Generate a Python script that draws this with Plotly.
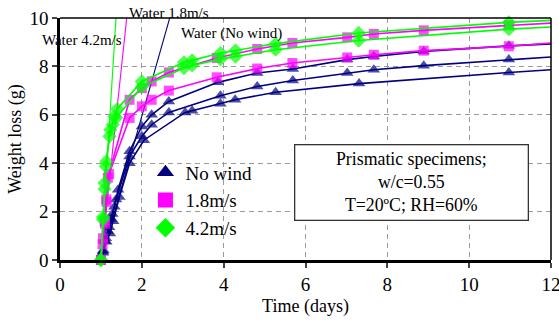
import plotly.graph_objects as go

# ---------------- data ----------------
# No wind (3 replicates)
nw1_x = [1.0, 1.05, 1.1, 1.17, 1.25, 1.33, 1.42, 1.7, 2.0, 2.24, 2.66, 3.86, 4.82, 5.69, 7.02, 7.67, 8.89, 10.97]
nw1_y = [0.0, 0.35, 0.8, 1.2, 1.7, 2.2, 2.9, 4.49, 5.52, 6.0, 6.55, 7.34, 7.73, 7.89, 8.28, 8.41, 8.62, 8.85]
nw1_end = 8.93
nw2_x = [1.0, 1.06, 1.12, 1.2, 1.28, 1.37, 1.7, 2.0, 2.24, 2.66, 3.92, 4.82, 5.69, 7.02, 7.67, 8.89, 10.97]
nw2_y = [0.0, 0.4, 0.9, 1.35, 1.9, 2.5, 4.28, 5.11, 5.59, 6.10, 6.79, 7.17, 7.42, 7.73, 7.86, 8.03, 8.28]
nw2_end = 8.39
nw3_x = [1.0, 1.05, 1.13, 1.22, 1.3, 1.45, 1.7, 2.05, 3.06, 3.23, 3.92, 4.28, 5.27, 7.31, 10.97]
nw3_y = [0.0, 0.3, 0.75, 1.1, 1.6, 2.6, 4.0, 4.95, 6.10, 6.17, 6.46, 6.62, 6.93, 7.29, 7.75]
nw3_end = 7.86

# 1.8 m/s (2 replicates)
m1_x = [1.0, 1.05, 1.09, 1.13, 1.17, 1.7, 2.0, 2.24, 2.66, 3.83, 4.82, 5.68, 7.02, 7.67, 8.89, 10.97]
m1_y = [0.0, 0.9, 1.6, 2.5, 3.4, 6.62, 7.1, 7.38, 7.75, 8.35, 8.72, 8.97, 9.20, 9.34, 9.49, 9.70]
m1_end = 9.79
m2_x = [1.0, 1.04, 1.1, 1.14, 1.2, 1.7, 2.0, 2.24, 2.66, 3.83, 4.82, 5.68, 7.02, 7.67, 8.89, 10.97]
m2_y = [0.0, 0.65, 1.5, 2.4, 3.55, 5.87, 6.35, 6.62, 7.0, 7.55, 7.91, 8.14, 8.37, 8.48, 8.65, 8.83]
m2_end = 8.97

# 4.2 m/s (2 replicates)
g1_x = [1.0, 1.05, 1.09, 1.13, 1.23, 1.33, 1.40, 2.0, 3.03, 3.23, 3.92, 4.29, 5.27, 7.30, 10.97]
g1_y = [0.0, 1.78, 3.18, 4.07, 5.38, 5.93, 6.24, 7.38, 8.17, 8.25, 8.55, 8.66, 8.94, 9.38, 9.82]
g1_end = 9.90
g2_x = [1.0, 1.05, 1.09, 1.12, 1.21, 1.29, 1.37, 2.0, 3.03, 3.23, 3.92, 4.29, 5.27, 7.30, 10.97]
g2_y = [0.0, 1.67, 2.93, 3.87, 5.11, 5.59, 5.87, 7.15, 7.93, 8.04, 8.30, 8.41, 8.69, 9.07, 9.54]
g2_end = 9.63

x_end = 12.0

# free-water evaporation lines
water_nw_x = [1.0, 2.9]
water_nw_y = [0.0, 11.3]
water_18_x = [1.0, 1.75]
water_18_y = [0.0, 11.9]
water_42_x = [1.0, 1.45]
water_42_y = [0.0, 12.2]

x_ticks = [0, 2, 4, 6, 8, 10, 12]
y_ticks = [0, 2, 4, 6, 8, 10]

NAVY = "#000080"
MAG = "#FF00FF"
GRN = "#00FF00"
FONT = "Liberation Serif, Times New Roman, Times, serif"

fig = go.Figure()

# water lines
for wx, wy, col in [(water_nw_x, water_nw_y, NAVY), (water_18_x, water_18_y, MAG), (water_42_x, water_42_y, GRN)]:
    fig.add_trace(go.Scatter(x=wx, y=wy, mode="lines", line=dict(color=col, width=1.1),
                             showlegend=False, hoverinfo="skip"))


def add_series(xs, ys, yend, color, symbol, size):
    xx = xs + [x_end]
    yy = ys + [yend]
    sizes = [size] * len(xs) + [0]
    fig.add_trace(go.Scatter(x=xx, y=yy, mode="lines+markers",
                             line=dict(color=color, width=1.6),
                             marker=dict(symbol=symbol, size=sizes, color=color, line=dict(width=0)),
                             showlegend=False, cliponaxis=False))


for xs, ys, ye in [(nw1_x, nw1_y, nw1_end), (nw2_x, nw2_y, nw2_end), (nw3_x, nw3_y, nw3_end)]:
    add_series(xs, ys, ye, NAVY, "triangle-up", 11)
for xs, ys, ye in [(m1_x, m1_y, m1_end), (m2_x, m2_y, m2_end)]:
    add_series(xs, ys, ye, MAG, "square", 10)
for xs, ys, ye in [(g1_x, g1_y, g1_end), (g2_x, g2_y, g2_end)]:
    add_series(xs, ys, ye, GRN, "diamond", 11)

# legend entries
for name, col, sym in [("No wind", NAVY, "triangle-up"), ("1.8m/s", MAG, "square"), ("4.2m/s", GRN, "diamond")]:
    fig.add_trace(go.Scatter(x=[None], y=[None], mode="markers", name=name,
                             marker=dict(symbol=sym, size=15, color=col, line=dict(width=0))))

grid = dict(showgrid=True, gridcolor="#9a9a9a", gridwidth=1, griddash="5px,4px")

fig.update_layout(
    width=559, height=320,
    margin=dict(l=60, r=8, t=18, b=60, autoexpand=False),
    paper_bgcolor="white", plot_bgcolor="white",
    font=dict(family=FONT, size=19, color="black"),
    showlegend=True,
    legend=dict(x=0.174, y=0.44, xanchor="left", yanchor="top", bgcolor="rgba(0,0,0,0)",
                font=dict(family=FONT, size=19), itemsizing="trace", tracegroupgap=0),
    xaxis=dict(range=[0, 12], tickvals=x_ticks, ticks="outside", ticklen=5, tickwidth=2,
               tickfont=dict(size=19), ticklabeloverflow="allow",
               showline=True, linecolor="black", linewidth=2.5, zeroline=False, automargin=False,
               title=dict(text="Time (days)", font=dict(size=18), standoff=6), **grid),
    yaxis=dict(range=[0, 10], tickvals=y_ticks, ticks="outside", ticklen=5, tickwidth=2,
               tickfont=dict(size=19), ticklabeloverflow="allow",
               showline=True, linecolor="black", linewidth=2.5, zeroline=False, automargin=False,
               title=dict(text="Weight loss (g)", font=dict(size=18), standoff=4), **grid),
)

# top / right frame
fig.add_shape(type="line", xref="paper", yref="paper", x0=0, x1=1, y0=1, y1=1, line=dict(color="black", width=1.5))
fig.add_shape(type="line", xref="paper", yref="paper", x0=1, x1=1, y0=0, y1=1, line=dict(color="black", width=1.5))

# info box
fig.add_annotation(xref="paper", yref="paper", x=0.715, y=0.32, xanchor="center", yanchor="middle",
                   text="Prismatic specimens;<br>w/c=0.55<br>T=20ºC; RH=60%", showarrow=False,
                   font=dict(family=FONT, size=17.8), align="center",
                   bordercolor="#333333", borderwidth=1.3, borderpad=2, bgcolor="white",
                   width=228, height=70)

# water labels
fig.add_annotation(xref="paper", yref="paper", x=-0.04, y=0.91, xanchor="left", yanchor="middle",
                   text="Water 4.2m/s", showarrow=False, font=dict(family=FONT, size=15))
fig.add_annotation(xref="paper", yref="paper", x=0.137, y=1.02, xanchor="left", yanchor="middle",
                   text="Water 1.8m/s", showarrow=False, font=dict(family=FONT, size=15))
fig.add_annotation(xref="paper", yref="paper", x=0.243, y=0.937, xanchor="left", yanchor="middle",
                   text="Water (No wind)", showarrow=False, font=dict(family=FONT, size=15))

fig.write_html("out.html", config={"displayModeBar": False},
               post_script="document.body.style.margin='0';")
